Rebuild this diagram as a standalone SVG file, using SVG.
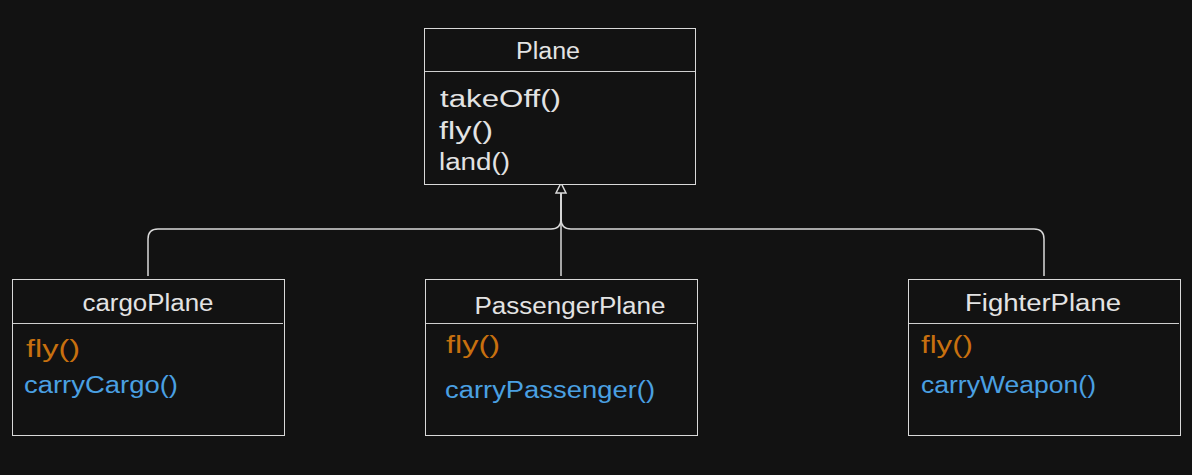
<svg xmlns="http://www.w3.org/2000/svg" width="1192" height="475" viewBox="0 0 1192 475">
<style>
.box{fill:#121212;stroke:#d9d9d9;stroke-width:1}
.div{stroke:#cfcfcf;stroke-width:1}
.t{font-family:"Liberation Sans",Arial,sans-serif;font-size:23px;fill:#e3e3e3}
.c{text-anchor:middle}
.o{fill:#c8700f}
.b{fill:#4aa0e2}
.conn{fill:none;stroke:#d9d9d9;stroke-width:1.5}
</style>
<rect width="1192" height="475" fill="#121212"/>
<g id="connectors">
<path class="conn" d="M148,276 V239 Q148,229 158,229 H551 Q561,229 561,219 V193"/>
<path class="conn" d="M1044,276 V239 Q1044,229 1034,229 H571 Q561,229 561,219 V193"/>
<path class="conn" d="M561,276 V193"/>
<polygon points="561,183 556,193 566,193" fill="#121212" stroke="#d9d9d9" stroke-width="1.5"/>
</g>
<g id="plane">
<rect class="box" x="424.5" y="28.5" width="271" height="156"/>
<line class="div" x1="425" y1="71.5" x2="695" y2="71.5"/>
<text class="t c" x="548" y="59" textLength="64" lengthAdjust="spacingAndGlyphs">Plane</text>
<text class="t" x="440" y="107" textLength="121" lengthAdjust="spacingAndGlyphs">takeOff()</text>
<text class="t" x="439" y="139" textLength="54" lengthAdjust="spacingAndGlyphs">fly()</text>
<text class="t" x="439" y="170" textLength="71" lengthAdjust="spacingAndGlyphs">land()</text>
</g>
<g id="cargoPlane">
<rect class="box" x="12.5" y="279.5" width="272" height="156"/>
<line class="div" x1="13" y1="323.5" x2="283" y2="323.5"/>
<text class="t c" x="148" y="311" textLength="131" lengthAdjust="spacingAndGlyphs">cargoPlane</text>
<text class="t o" x="26" y="357" textLength="54" lengthAdjust="spacingAndGlyphs">fly()</text>
<text class="t b" x="24" y="393" textLength="154" lengthAdjust="spacingAndGlyphs">carryCargo()</text>
</g>
<g id="passengerPlane">
<rect class="box" x="425.5" y="279.5" width="272" height="156"/>
<line class="div" x1="426" y1="323.5" x2="696" y2="323.5"/>
<text class="t c" x="570" y="314" textLength="191" lengthAdjust="spacingAndGlyphs">PassengerPlane</text>
<text class="t o" x="446" y="353" textLength="54" lengthAdjust="spacingAndGlyphs">fly()</text>
<text class="t b" x="445" y="398" textLength="210" lengthAdjust="spacingAndGlyphs">carryPassenger()</text>
</g>
<g id="fighterPlane">
<rect class="box" x="908.5" y="279.5" width="272" height="156"/>
<line class="div" x1="909" y1="323.5" x2="1179" y2="323.5"/>
<text class="t c" x="1043" y="311" textLength="156" lengthAdjust="spacingAndGlyphs">FighterPlane</text>
<text class="t o" x="921" y="353" textLength="52" lengthAdjust="spacingAndGlyphs">fly()</text>
<text class="t b" x="921" y="393" textLength="175" lengthAdjust="spacingAndGlyphs">carryWeapon()</text>
</g>
</svg>
